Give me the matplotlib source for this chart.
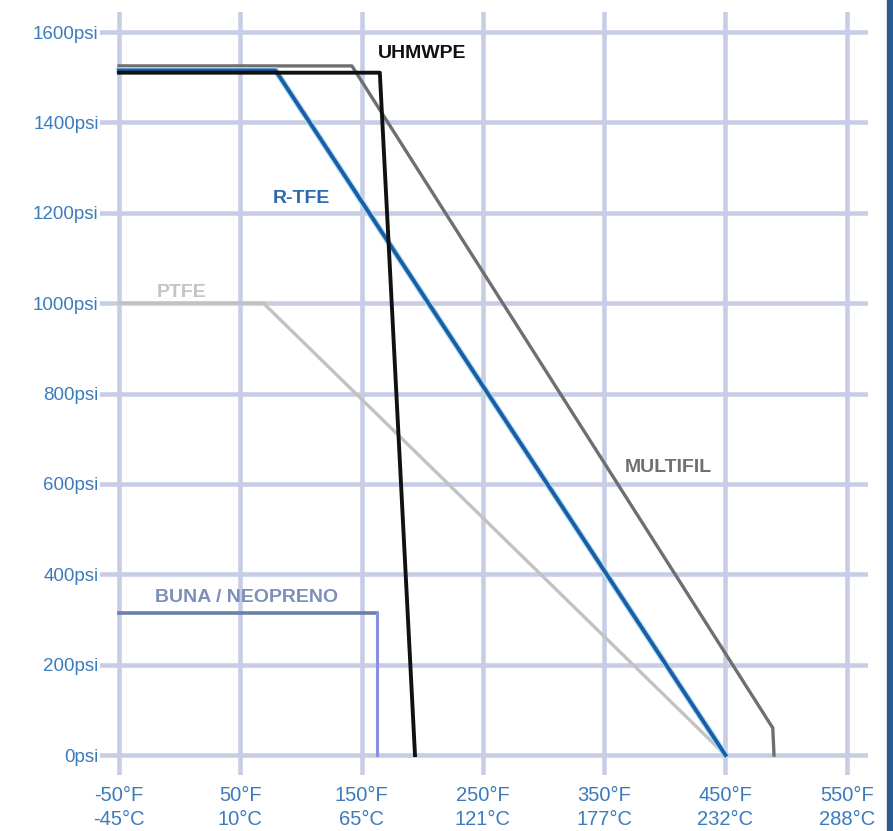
import matplotlib
matplotlib.use("Agg")
import matplotlib.pyplot as plt
from matplotlib.patches import Rectangle

# pressure / temperature limits
temp_ticks_f = [-50, 50, 150, 250, 350, 450, 550]
temp_ticks_c = [-45, 10, 65, 121, 177, 232, 288]
psi_ticks = [0, 200, 400, 600, 800, 1000, 1200, 1400, 1600]

multifil_t = [-50, 142, 489, 490]
multifil_p = [1525, 1525, 60, 0]

rtfe_t = [-50, 79, 450]
rtfe_p = [1515, 1515, 0]

uhmwpe_t = [-50, 165, 194]
uhmwpe_p = [1510, 1510, 0]

ptfe_t = [-50, 69, 450]
ptfe_p = [1000, 1000, 0]

buna_t = [-50, 163, 163]
buna_p = [315, 315, 0]

plt.rcParams['font.family'] = ['Liberation Sans', 'DejaVu Sans']

fig = plt.figure(figsize=(8.93, 8.31), dpi=100)
ax = fig.add_axes([0.112, 0.0674, 0.86, 0.918])

grid_col = '#c8cde6'
for y in psi_ticks:
    ax.axhline(y, color=grid_col, lw=3.3, zorder=0)
for x in temp_ticks_f:
    ax.axvline(x, color=grid_col, lw=3.3, zorder=0)

ax.plot(ptfe_t, ptfe_p, color='#c2c2c2', lw=2.4, zorder=2)
ax.plot(multifil_t, multifil_p, color='#6f6f6f', lw=2.4, zorder=3)
ax.plot(buna_t[:2], buna_p[:2], color='#6c7fa8', lw=2.6, zorder=3)
ax.plot(buna_t[1:], buna_p[1:], color='#8c8ee0', lw=2.2, zorder=3)
ax.plot(rtfe_t, rtfe_p, color='#aee0f5', lw=4.5, zorder=4)
ax.plot(rtfe_t, rtfe_p, color='#1c5da6', lw=2.8, zorder=4)
ax.plot(uhmwpe_t, uhmwpe_p, color='#111111', lw=2.8, zorder=5)

lab = dict(fontsize=14, fontweight='bold', va='center', ha='left', zorder=6)
ax.text(163, 1553, 'UHMWPE', color='#111111', **lab)
ax.text(77, 1232, 'R-TFE', color='#2a6aad', **lab)
ax.text(-19, 1024, 'PTFE', color='#c4c4c4', **lab)
ax.text(367, 636, 'MULTIFIL', color='#707070', **lab)
ax.text(-20, 348, 'BUNA / NEOPRENO', color='#7c90ba', **lab)

ax.set_xlim(-65.7, 567.5)
ax.set_ylim(-44, 1644)
ax.set_xticks(temp_ticks_f)
ax.set_xticklabels([f'{f}°F\n{c}°C' for f, c in zip(temp_ticks_f, temp_ticks_c)],
                   linespacing=1.3)
ax.set_yticks(psi_ticks)
ax.set_yticklabels([f'{p}psi' for p in psi_ticks])
ax.tick_params(length=0, colors='#3b7bbd')
ax.tick_params(axis='y', labelsize=13.5, pad=1)
ax.tick_params(axis='x', labelsize=14.5, pad=8)
for s in ax.spines.values():
    s.set_visible(False)

fig.patches.append(Rectangle((887 / 893, 0), 6 / 893, 1, transform=fig.transFigure,
                             color='#2c5a92', zorder=10))

fig.savefig('out.png', dpi=100)
